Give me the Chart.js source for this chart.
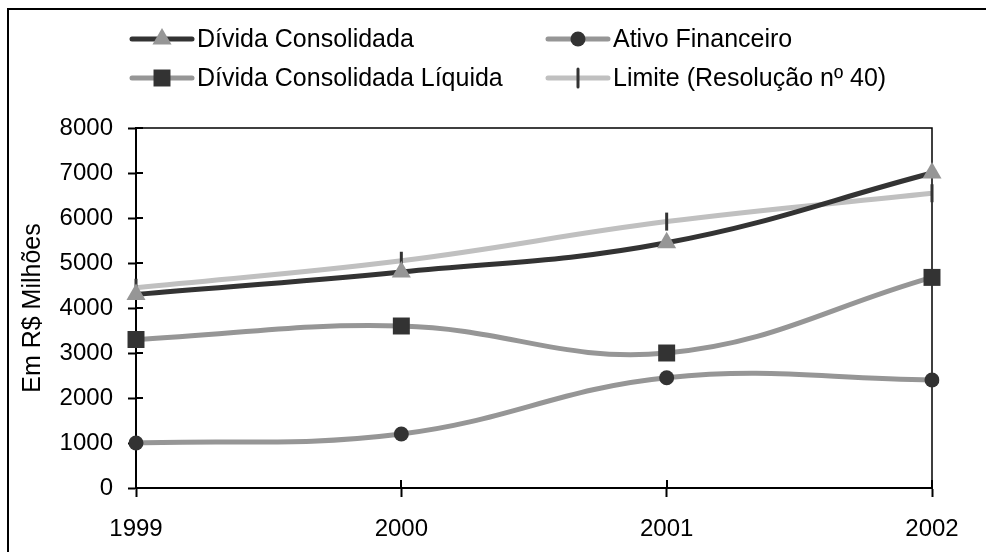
<!DOCTYPE html>
<html>
<head>
<meta charset="utf-8">
<script src="https://cdn.jsdelivr.net/npm/chart.js@4/dist/chart.umd.min.js"></script>
<style>
  html, body { margin: 0; padding: 0; background: #fff; }
  #wrap { width: 986px; height: 552px; overflow: hidden; }
</style>
</head>
<body>
<div id="wrap"><canvas id="divida" width="986" height="552"></canvas></div>
<script>
// data
var anos = ['1999', '2000', '2001', '2002'];
var dividaConsolidada = [4300, 4800, 5450, 7000];
var ativoFinanceiro = [1000, 1200, 2450, 2400];
var dividaLiquida = [3300, 3600, 3000, 4680];
var limite = [4450, 5050, 5920, 6550];
var yTicks = [0, 1000, 2000, 3000, 4000, 5000, 6000, 7000, 8000];

var FONT = '"Liberation Sans", Arial, sans-serif';

function drawMarker(ctx, ds, x, y) {
    var r = ds.pointRadius;
    ctx.save();
    ctx.fillStyle = ds.pointBackgroundColor;
    ctx.strokeStyle = ds.pointBorderColor;
    ctx.lineWidth = ds.pointBorderWidth;
    ctx.beginPath();
    if (ds.pointStyle === 'triangle') {
        ctx.moveTo(x, y - r);
        ctx.lineTo(x + r * 0.866, y + r * 0.5);
        ctx.lineTo(x - r * 0.866, y + r * 0.5);
        ctx.closePath();
        ctx.fill();
    } else if (ds.pointStyle === 'circle') {
        ctx.arc(x, y, r, 0, Math.PI * 2);
        ctx.fill();
    } else if (ds.pointStyle === 'rect') {
        var s = r * Math.SQRT1_2;
        ctx.rect(x - s, y - s, 2 * s, 2 * s);
        ctx.fill();
    } else {
        ctx.moveTo(x, y - r);
        ctx.lineTo(x, y + r);
        ctx.stroke();
    }
    ctx.restore();
}

// legend in two columns, like the original
var legendaPlugin = {
    id: 'legenda',
    afterDraw: function (chart) {
        var ctx = chart.ctx;
        var pos = [[132, 39], [548, 39], [132, 78], [548, 78]];
        ctx.save();
        ctx.font = '25px ' + FONT;
        ctx.textBaseline = 'middle';
        chart.data.datasets.forEach(function (ds, k) {
            var x = pos[k][0], y = pos[k][1];
            ctx.strokeStyle = ds.borderColor;
            ctx.lineWidth = 5;
            ctx.lineCap = 'round';
            ctx.beginPath();
            ctx.moveTo(x, y);
            ctx.lineTo(x + 60, y);
            ctx.stroke();
            drawMarker(ctx, ds, x + 30, y);
            ctx.fillStyle = '#000';
            ctx.fillText(ds.label, x + 65, y + 1);
        });
        ctx.restore();
    }
};

// white page, outer frame, plot box and ticks crossing the axes
var molduraPlugin = {
    id: 'moldura',
    beforeDraw: function (chart) {
        var ctx = chart.ctx;
        ctx.save();
        ctx.fillStyle = '#fff';
        ctx.fillRect(0, 0, chart.width, chart.height);
        ctx.strokeStyle = '#000';
        ctx.lineWidth = 2;
        ctx.strokeRect(8, 9, 1200, 800);
        ctx.restore();
    },
    beforeDatasetsDraw: function (chart) {
        var ctx = chart.ctx;
        var a = chart.chartArea;
        var xs = chart.scales.x, ys = chart.scales.y;
        ctx.save();
        ctx.strokeStyle = '#000';
        ctx.lineWidth = 1.5;
        ctx.beginPath();
        ctx.moveTo(a.left, a.top);
        ctx.lineTo(a.right, a.top);
        ctx.lineTo(a.right, a.bottom);
        ctx.stroke();
        ctx.lineWidth = 2;
        ctx.beginPath();
        yTicks.forEach(function (v) {
            var py = Math.round(ys.getPixelForValue(v));
            ctx.moveTo(a.left, py);
            ctx.lineTo(a.left + 7, py);
        });
        anos.forEach(function (c, i) {
            var px = Math.round(xs.getPixelForValue(i));
            ctx.moveTo(px, a.bottom);
            ctx.lineTo(px, a.bottom - 8);
        });
        ctx.stroke();
        ctx.restore();
    }
};

var grafico = new Chart(document.getElementById('divida'), {
    type: 'line',
    data: {
        labels: anos,
        datasets: [
            {
                label: 'Dívida Consolidada',
                data: dividaConsolidada,
                borderColor: '#333333',
                borderWidth: 5,
                tension: 0.4,
                pointStyle: 'triangle',
                pointRadius: 11,
                pointBackgroundColor: '#969696',
                pointBorderColor: '#969696',
                pointBorderWidth: 0,
                fill: false
            },
            {
                label: 'Ativo Financeiro',
                data: ativoFinanceiro,
                borderColor: '#969696',
                borderWidth: 5,
                tension: 0.4,
                pointStyle: 'circle',
                pointRadius: 7.5,
                pointBackgroundColor: '#333333',
                pointBorderColor: '#333333',
                pointBorderWidth: 0,
                fill: false
            },
            {
                label: 'Dívida Consolidada Líquida',
                data: dividaLiquida,
                borderColor: '#969696',
                borderWidth: 5,
                tension: 0.4,
                pointStyle: 'rect',
                pointRadius: 12,
                pointBackgroundColor: '#333333',
                pointBorderColor: '#333333',
                pointBorderWidth: 0,
                fill: false
            },
            {
                label: 'Limite (Resolução nº 40)',
                data: limite,
                borderColor: '#c0c0c0',
                borderWidth: 5,
                tension: 0.4,
                pointStyle: 'line',
                rotation: 90,
                pointRadius: 9,
                pointBackgroundColor: '#333333',
                pointBorderColor: '#333333',
                pointBorderWidth: 3,
                fill: false
            }
        ]
    },
    options: {
        responsive: false,
        animation: false,
        layout: { padding: { top: 128, right: 54, bottom: 0, left: 0 } },
        plugins: {
            legend: { display: false },
            tooltip: { enabled: false }
        },
        scales: {
            x: {
                offset: false,
                afterFit: function (s) { s.height = 64; },
                border: { display: true, color: '#000', width: 2 },
                grid: { drawOnChartArea: false, drawTicks: true, tickLength: 9, tickWidth: 2, tickColor: '#000' },
                ticks: { color: '#000', padding: 18, maxRotation: 0, font: { family: FONT, size: 24 } }
            },
            y: {
                min: 0,
                max: 8000,
                afterFit: function (s) { s.width = 136; },
                afterBuildTicks: function (s) { s.ticks = yTicks.map(function (v) { return { value: v }; }); },
                border: { display: true, color: '#000', width: 2 },
                grid: { drawOnChartArea: false, drawTicks: true, tickLength: 8, tickWidth: 2, tickColor: '#000' },
                ticks: {
                    color: '#000',
                    padding: 15,
                    font: { family: FONT, size: 24 },
                    callback: function (v) { return String(v); }
                },
                title: {
                    display: true,
                    text: 'Em R$ Milhões',
                    color: '#000',
                    padding: { top: 18, bottom: 0 },
                    font: { family: FONT, size: 25 }
                }
            }
        }
    },
    plugins: [molduraPlugin, legendaPlugin]
});
</script>
</body>
</html>
